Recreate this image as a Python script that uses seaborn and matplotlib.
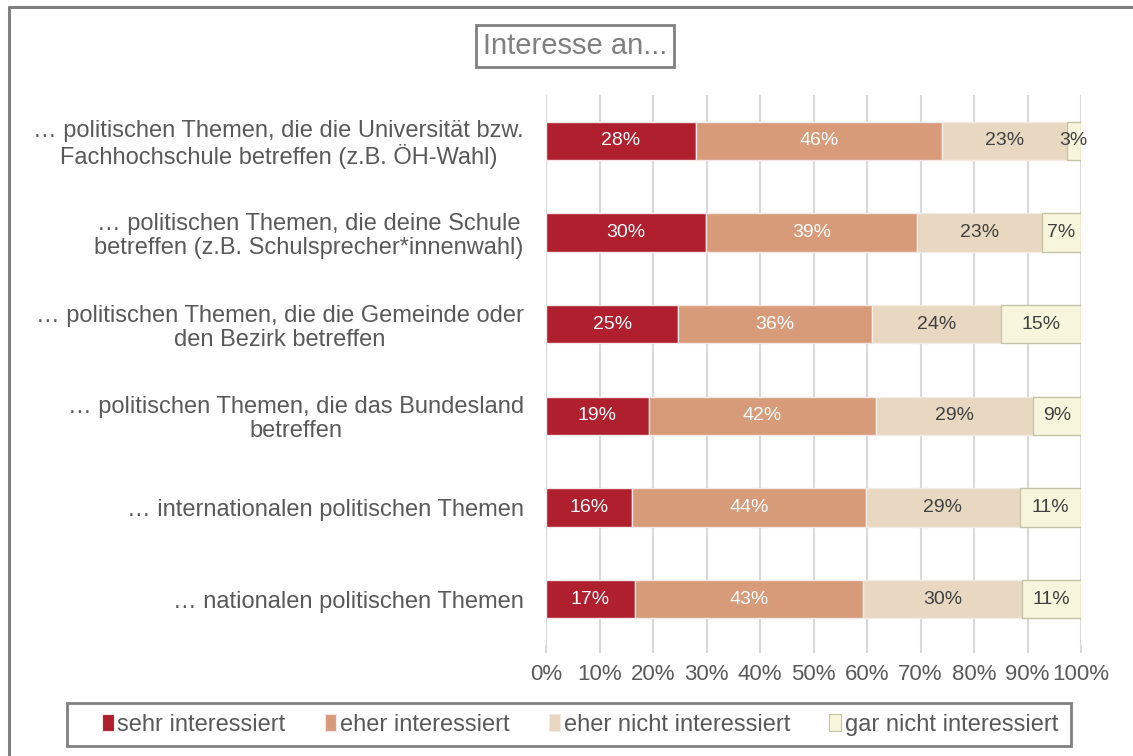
import numpy as np
import pandas as pd
import matplotlib
matplotlib.use("Agg")
import matplotlib.pyplot as plt
import seaborn as sns
from matplotlib.lines import Line2D
from matplotlib.patches import Patch, Rectangle
from matplotlib.ticker import FuncFormatter

# Survey items (top to bottom)
categories = [
    "… politischen Themen, die die Universität bzw.\nFachhochschule betreffen (z.B. ÖH-Wahl)",
    "… politischen Themen, die deine Schule\nbetreffen (z.B. Schulsprecher*innenwahl)",
    "… politischen Themen, die die Gemeinde oder\nden Bezirk betreffen",
    "… politischen Themen, die das Bundesland\nbetreffen",
    "… internationalen politischen Themen",
    "… nationalen politischen Themen",
]

# Answer shares in percent
sehr_interessiert = [28.0, 29.9, 24.7, 19.2, 16.1, 16.6]
eher_interessiert = [46.1, 39.4, 36.2, 42.4, 43.7, 42.6]
eher_nicht_interessiert = [23.2, 23.4, 24.1, 29.4, 28.8, 29.8]
gar_nicht_interessiert = [2.7, 7.3, 15.0, 9.0, 11.4, 11.0]

series_names = ["sehr interessiert", "eher interessiert",
                "eher nicht interessiert", "gar nicht interessiert"]
series_values = [sehr_interessiert, eher_interessiert,
                 eher_nicht_interessiert, gar_nicht_interessiert]
series_colors = ["#B01F2E", "#D89B7A", "#E8D7C1", "#F7F5DC"]
edge_colors = ["#F2E6E6", "#F2E6E6", "#F2ECE4", "#C4C3A6"]
label_colors = ["white", "white", "#404040", "#404040"]

title_text = "Interesse an..."
xticks = list(range(0, 101, 10))

sns.set_theme(style="white")
plt.rcParams["font.family"] = ["Liberation Sans", "DejaVu Sans"]

fig = plt.figure(figsize=(11.33, 7.56), dpi=100)
ax = fig.add_axes([546 / 1133, 1 - 645 / 756, 535 / 1133, 550 / 756])

left = np.zeros(len(categories))
for name, vals, col, ec, lc in zip(series_names, series_values, series_colors,
                                   edge_colors, label_colors):
    vals = np.asarray(vals, dtype=float)
    sns.barplot(x=vals, y=categories, orient="h", left=left, color=col,
                saturation=1, width=0.415, edgecolor=ec, linewidth=1.0,
                ax=ax, zorder=3)
    cont = ax.containers[-1]
    ax.bar_label(cont, labels=[f"{v:.0f}%" for v in vals], label_type="center",
                 color=lc, fontsize=14, zorder=4)
    left = left + vals

ax.set_xlim(0, 100)
ax.set_ylim(len(categories) - 0.5, -0.5)
ax.set_xticks(xticks)
ax.xaxis.set_major_formatter(FuncFormatter(lambda v, p: f"{v:.0f}%"))
ax.set_xlabel("")
ax.set_ylabel("")
ax.grid(axis="x", color="#D9D9D9", linewidth=1.5, zorder=0)
ax.grid(axis="y", visible=False)
for s in ax.spines.values():
    s.set_visible(False)
ax.tick_params(axis="x", length=6, width=1.5, color="#D9D9D9", pad=8,
               labelsize=16, labelcolor="#595959", bottom=True)
ax.tick_params(axis="y", length=0, pad=16, labelsize=17, labelcolor="#595959")
for t in ax.get_yticklabels():
    t.set_multialignment("center")
    t.set_linespacing(1.12)

# Title in a framed box
fig.text(575 / 1133, 1 - 46 / 756, title_text, ha="center", va="center",
         fontsize=21, color="#7F7F7F",
         bbox=dict(boxstyle="square,pad=0.25", fc="white", ec="#808080", lw=2))

# Legend with a separate frame
handles = [Patch(facecolor=c, edgecolor=e, linewidth=0.8)
           for c, e in zip(series_colors, edge_colors)]
leg = fig.legend(handles, series_names, ncol=4,
                 bbox_to_anchor=(580 / 1133, 1 - 725 / 756),
                 loc="center", fontsize=17, frameon=False,
                 handlelength=0.5, handleheight=0.7, handletextpad=0.15,
                 columnspacing=1.65, borderaxespad=0, borderpad=0)
for t in leg.get_texts():
    t.set_color("#595959")
fig.add_artist(Rectangle((67 / 1133, 1 - 746 / 756), 1004 / 1133, 43 / 756,
                         transform=fig.transFigure, fill=False,
                         edgecolor="#808080", lw=2))

# Outer frame (left and top edges)
fig.add_artist(Line2D([9 / 1133, 9 / 1133], [0, 1 - 7 / 756],
                      color="#808080", lw=2.2, transform=fig.transFigure))
fig.add_artist(Line2D([9 / 1133, 1], [1 - 7 / 756, 1 - 7 / 756],
                      color="#808080", lw=2.2, transform=fig.transFigure))

fig.savefig("out.png", dpi=100, facecolor="white")
